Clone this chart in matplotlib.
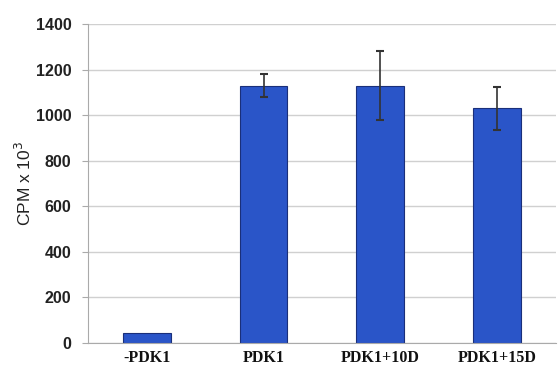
import matplotlib.pyplot as plt
import numpy as np

categories = ["-PDK1", "PDK1", "PDK1+10D", "PDK1+15D"]
values = [45, 1130, 1130, 1030]
errors = [0, 50, 150, 95]
yticks = [0, 200, 400, 600, 800, 1000, 1200, 1400]

fig = plt.figure(figsize=(5.58, 3.66), dpi=100)
ax = fig.add_axes([0.158, 0.063, 0.838, 0.871])

x = np.arange(len(categories))
err = [e if e > 0 else np.nan for e in errors]
ax.bar(x, values, width=0.41, color="#2a55c8", edgecolor="#1a2f7a", linewidth=0.8, zorder=2)
ax.errorbar(x, values, yerr=err, fmt="none", ecolor="#333333", elinewidth=1.2,
            capsize=3, capthick=1.5, zorder=3)

ax.set_xlim(-0.5, 3.5)
ax.set_ylim(0, 1400)
ax.set_yticks(yticks)
ax.set_yticklabels([str(t) for t in yticks], fontsize=11.5, fontweight="bold",
                   family="Liberation Sans", color="#222222")
ax.set_xticks(x)
ax.set_xticklabels(categories, fontsize=11.5, fontweight="bold",
                   family="Liberation Serif", color="#111111")
ax.set_ylabel("CPM x 10$^3$", fontsize=12.5, family="Liberation Sans", color="#222222",
              labelpad=1)

ax.grid(axis="y", color="#d0d0d0", linewidth=1.0, zorder=0)
for s in ["top", "right"]:
    ax.spines[s].set_visible(False)
ax.spines["left"].set_color("#aaaaaa")
ax.spines["bottom"].set_color("#aaaaaa")
ax.tick_params(axis="y", length=4, color="#aaaaaa", pad=8)
ax.tick_params(axis="x", length=0, pad=5)

fig.savefig("out.png", dpi=100)
